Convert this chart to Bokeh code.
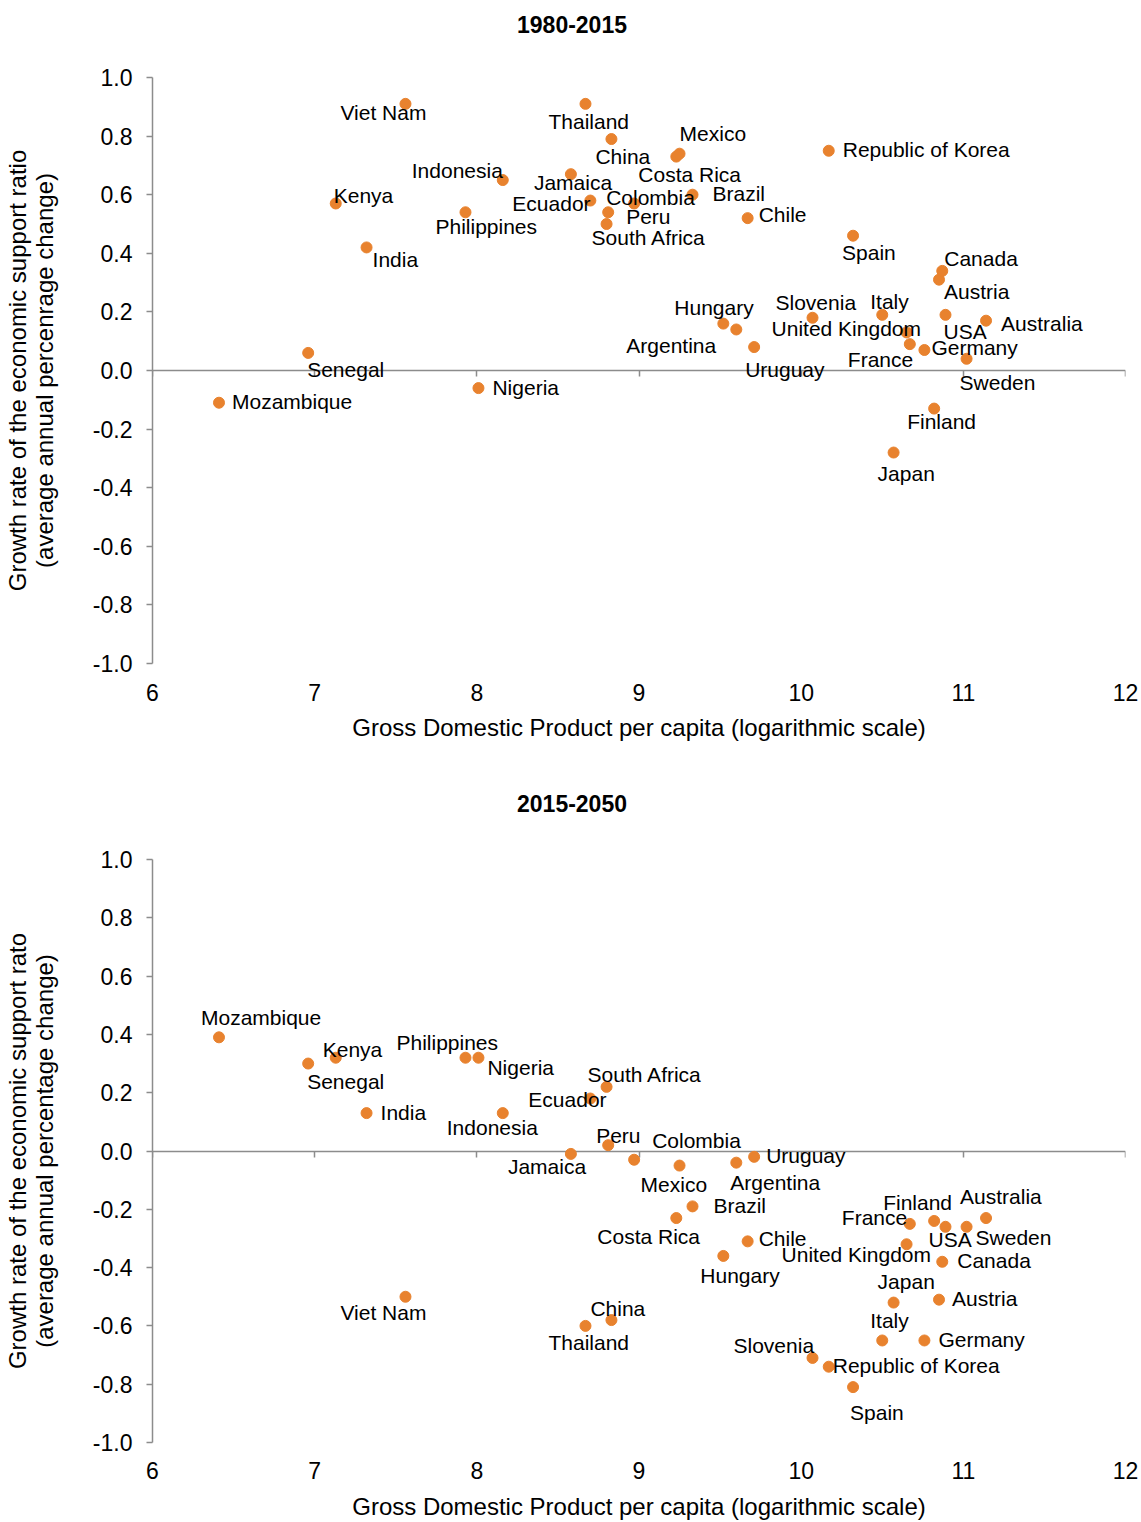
from bokeh.plotting import figure
from bokeh.models import ColumnDataSource, LinearAxis, FixedTicker, Range1d, NumeralTickFormatter
from bokeh.layouts import column
from bokeh.embed import file_html
from bokeh.resources import INLINE
from bokeh.core.properties import value

# ---------------- data ----------------
countries = ["Mozambique", "Senegal", "Kenya", "India", "Viet Nam", "Philippines", "Nigeria",
             "Indonesia", "Jamaica", "Thailand", "Ecuador", "South Africa", "Peru", "China",
             "Colombia", "Costa Rica", "Mexico", "Brazil", "Hungary", "Argentina", "Chile",
             "Uruguay", "Slovenia", "Republic of Korea", "Spain", "Italy", "Japan",
             "United Kingdom", "France", "Germany", "Finland", "Austria", "Canada", "USA",
             "Sweden", "Australia"]

gdp_log = [6.41, 6.96, 7.13, 7.32, 7.56, 7.93, 8.01,
           8.16, 8.58, 8.67, 8.70, 8.80, 8.81, 8.83,
           8.97, 9.23, 9.25, 9.33, 9.52, 9.60, 9.67,
           9.71, 10.07, 10.17, 10.32, 10.50, 10.57,
           10.65, 10.67, 10.76, 10.82, 10.85, 10.87, 10.89,
           11.02, 11.14]

growth_1980_2015 = [-0.11, 0.06, 0.57, 0.42, 0.91, 0.54, -0.06,
                    0.65, 0.67, 0.91, 0.58, 0.50, 0.54, 0.79,
                    0.57, 0.73, 0.74, 0.60, 0.16, 0.14, 0.52,
                    0.08, 0.18, 0.75, 0.46, 0.19, -0.28,
                    0.13, 0.09, 0.07, -0.13, 0.31, 0.34, 0.19,
                    0.04, 0.17]

growth_2015_2050 = [0.39, 0.30, 0.32, 0.13, -0.50, 0.32, 0.32,
                    0.13, -0.01, -0.60, 0.18, 0.22, 0.02, -0.58,
                    -0.03, -0.23, -0.05, -0.19, -0.36, -0.04, -0.31,
                    -0.02, -0.71, -0.74, -0.81, -0.65, -0.52,
                    -0.32, -0.25, -0.65, -0.24, -0.51, -0.38, -0.26,
                    -0.26, -0.23]

x_ticks = [6, 7, 8, 9, 10, 11, 12]
y_ticks = [-1.0, -0.8, -0.6, -0.4, -0.2, 0.0, 0.2, 0.4, 0.6, 0.8, 1.0]

titles = ["1980-2015", "2015-2050"]
x_title = "Gross Domestic Product per capita (logarithmic scale)"
y_titles = ["Growth rate of the economic support ratio\n(average annual percenrage change)",
            "Growth rate of the economic support rato\n(average annual percentage change)"]

# ---------------- label layout (pixel offsets of text left/middle from point) ----------------
offsets_top = {
    "Viet Nam": (-65, 9), "Thailand": (-37, 18), "China": (-16, 17), "Mexico": (0, -20),
    "Costa Rica": (-38, 18), "Republic of Korea": (14, -1), "Indonesia": (-91, -10),
    "Jamaica": (-37, 8), "Kenya": (-2, -8), "Ecuador": (-78, 3), "Colombia": (-28, -6),
    "Brazil": (20, -1), "Peru": (18, 4), "Philippines": (-30, 14), "Chile": (11, -4),
    "South Africa": (-15, 13), "India": (6, 12), "Spain": (-11, 17), "Canada": (2, -12),
    "Austria": (5, 12), "Hungary": (-49, -16), "Slovenia": (-37, -15), "Italy": (-12, -13),
    "United Kingdom": (-135, -4), "USA": (-2, 17), "Australia": (15, 3),
    "Argentina": (-110, 16), "Germany": (7, -2), "France": (-62, 15), "Uruguay": (-9, 22),
    "Senegal": (-1, 17), "Sweden": (-7, 24), "Nigeria": (14, -1), "Mozambique": (13, -1),
    "Finland": (-27, 13), "Japan": (-16, 21),
}
offsets_bot = {
    "Mozambique": (-18, -20), "Kenya": (-13, -8), "Philippines": (-69, -15), "Nigeria": (9, 10),
    "Senegal": (-1, 18), "South Africa": (-19, -12), "Ecuador": (-62, 1), "India": (14, -1),
    "Indonesia": (-56, 14), "Peru": (-12, -10), "Colombia": (18, -19), "Uruguay": (12, -1),
    "Jamaica": (-63, 13), "Mexico": (-39, 19), "Argentina": (-6, 20), "Brazil": (21, -1),
    "Finland": (-51, -18), "Australia": (-26, -22), "France": (-68, -6), "Costa Rica": (-79, 18),
    "Chile": (11, -3), "USA": (-17, 13), "Sweden": (9, 11), "United Kingdom": (-125, 10),
    "Canada": (15, -1), "Hungary": (-23, 20), "Japan": (-16, -21), "Austria": (13, -1),
    "Viet Nam": (-65, 16), "China": (-21, -12), "Italy": (-12, -20), "Thailand": (-37, 17),
    "Germany": (14, -1), "Slovenia": (-79, -12), "Republic of Korea": (4, -1), "Spain": (-3, 25),
}

FONT = "Liberation Sans"
DOT = "#E8822E"
AXIS = "#8C8C8C"
W = 1141
LEFT, RIGHT = 152, 16


def make_title(text, height, center_y):
    # title strip sharing the panels' horizontal frame; title centred on the page
    t = figure(width=W, height=height, output_backend="svg", toolbar_location=None,
               x_range=Range1d(0, W - LEFT - RIGHT), y_range=Range1d(height, 0),
               x_axis_location=None, y_axis_location=None,
               min_border_left=LEFT, min_border_right=RIGHT, min_border_top=0, min_border_bottom=0)
    t.outline_line_color = None
    t.xgrid.visible = False
    t.ygrid.visible = False
    src = ColumnDataSource(dict(x=[W / 2 + 1 - LEFT], y=[center_y], t=[text]))
    t.text("x", "y", text="t", source=src, text_align="center", text_baseline="middle",
           text_font=value(FONT), text_font_size=value("23px"), text_font_style="bold",
           text_color="black")
    return t


def make_panel(y_title, yvals, offsets, height, top, bottom, lab_standoff, ax_standoff):
    src = ColumnDataSource(dict(
        x=gdp_log, y=yvals, name=countries,
        dx=[offsets[c][0] for c in countries],
        dy=[offsets[c][1] for c in countries],
    ))
    p = figure(width=W, height=height, output_backend="svg", toolbar_location=None,
               x_range=Range1d(6, 12), y_range=Range1d(-1, 1),
               min_border_left=LEFT, min_border_right=RIGHT, min_border_top=top, min_border_bottom=bottom)
    p.outline_line_color = None
    p.xgrid.visible = False
    p.ygrid.visible = False
    p.background_fill_color = "white"

    # bottom axis: labels only
    xa = p.xaxis[0]
    xa.ticker = FixedTicker(ticks=x_ticks)
    xa.axis_line_color = None
    xa.major_tick_line_color = None
    xa.minor_tick_line_color = None
    xa.major_tick_out = 0
    xa.major_tick_in = 0
    xa.major_label_standoff = lab_standoff
    xa.major_label_text_font = FONT
    xa.major_label_text_font_size = "23px"
    xa.major_label_text_color = "black"
    xa.axis_label = x_title
    xa.axis_label_standoff = ax_standoff
    xa.axis_label_text_font = FONT
    xa.axis_label_text_font_size = "24px"
    xa.axis_label_text_font_style = "normal"
    xa.axis_label_text_color = "black"

    # zero line axis with ticks
    za = LinearAxis(fixed_location=0, ticker=FixedTicker(ticks=x_ticks),
                    axis_line_color=AXIS, axis_line_width=1.5,
                    major_tick_in=0, major_tick_out=6,
                    major_tick_line_color=AXIS, major_tick_line_width=1.5,
                    minor_tick_line_color=None,
                    major_label_text_color=None, major_label_text_font_size="0px")
    p.add_layout(za, "below")

    ya = p.yaxis[0]
    ya.ticker = FixedTicker(ticks=y_ticks)
    ya.formatter = NumeralTickFormatter(format="0.0")
    ya.axis_line_color = AXIS
    ya.axis_line_width = 1.5
    ya.major_tick_line_color = AXIS
    ya.major_tick_line_width = 1.5
    ya.major_tick_in = 0
    ya.major_tick_out = 6
    ya.minor_tick_line_color = None
    ya.major_label_standoff = 14
    ya.major_label_text_font = FONT
    ya.major_label_text_font_size = "23px"
    ya.major_label_text_color = "black"
    ya.axis_label = y_title
    ya.axis_label_standoff = 32
    ya.axis_label_text_font = FONT
    ya.axis_label_text_font_size = "24px"
    ya.axis_label_text_line_height = 1.0
    ya.axis_label_text_font_style = "normal"
    ya.axis_label_text_color = "black"

    p.scatter("x", "y", source=src, size=11, fill_color=DOT, line_color=DOT, level="overlay")
    p.text("x", "y", text="name", source=src, x_offset="dx", y_offset="dy",
           text_font=value(FONT), text_font_size=value("21px"), text_color="black",
           text_align="left", text_baseline="middle", level="overlay")
    return p


t1 = make_title(titles[0], 50, 24)
p1 = make_panel(y_titles[0], growth_1980_2015, offsets_top, 719, 27, 106, 20, 10)
t2 = make_title(titles[1], 60, 34)
p2 = make_panel(y_titles[1], growth_2015_2050, offsets_bot, 693, 30, 79, 19, 11)

layout = column(t1, p1, t2, p2)
open("out.html", "w").write(file_html(layout, INLINE))
